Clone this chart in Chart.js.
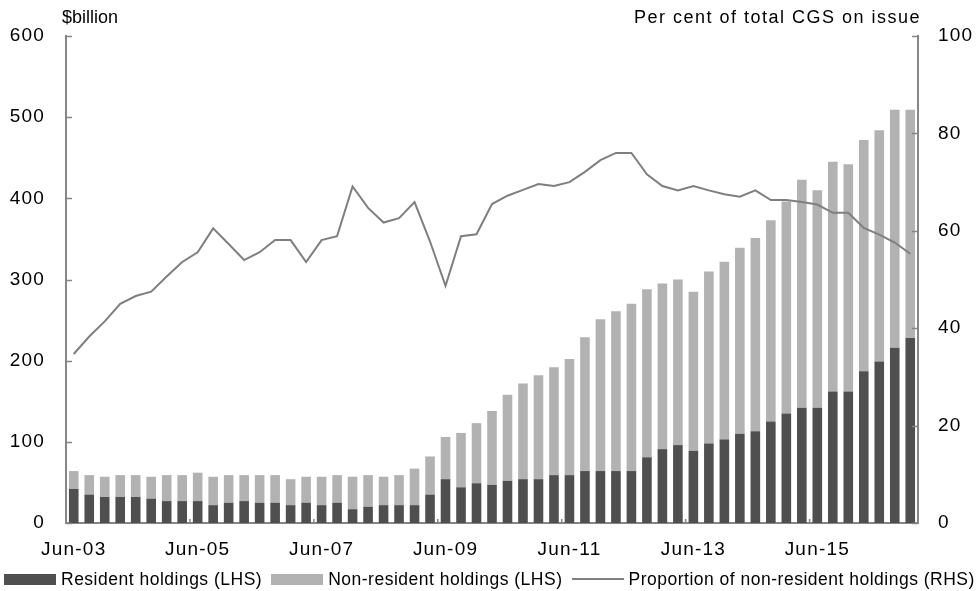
<!DOCTYPE html>
<html>
<head>
<meta charset="utf-8">
<script src="https://cdn.jsdelivr.net/npm/chart.js@4.4.1/dist/chart.umd.min.js"></script>
<style>
  html, body { margin: 0; padding: 0; background: #fff; }
  #wrap { position: relative; width: 977px; height: 591px; }
  #legend {
    position: absolute; left: 4px; top: 569px; height: 20px;
    display: flex; align-items: center; white-space: nowrap;
    font: 17.5px "Liberation Sans", Arial, sans-serif; letter-spacing: 0.5px; color: #000;
  }
  #legend .item { display: flex; align-items: center; margin-right: 9px; }
  #legend .swatch { width: 52px; height: 11px; margin-right: 5px; }
  #legend .line { width: 52px; height: 2px; margin-right: 5px; }
</style>
</head>
<body>
<div id="wrap">
  <canvas id="myChart" width="977" height="591"></canvas>
  <div id="legend"></div>
</div>
<script>
// quarterly categories, Jun-03 to Dec-16
const quarters = [
  "Jun-03", "Sep-03", "Dec-03", "Mar-04", "Jun-04", "Sep-04", "Dec-04", "Mar-05",
  "Jun-05", "Sep-05", "Dec-05", "Mar-06", "Jun-06", "Sep-06", "Dec-06", "Mar-07",
  "Jun-07", "Sep-07", "Dec-07", "Mar-08", "Jun-08", "Sep-08", "Dec-08", "Mar-09",
  "Jun-09", "Sep-09", "Dec-09", "Mar-10", "Jun-10", "Sep-10", "Dec-10", "Mar-11",
  "Jun-11", "Sep-11", "Dec-11", "Mar-12", "Jun-12", "Sep-12", "Dec-12", "Mar-13",
  "Jun-13", "Sep-13", "Dec-13", "Mar-14", "Jun-14", "Sep-14", "Dec-14", "Mar-15",
  "Jun-15", "Sep-15", "Dec-15", "Mar-16", "Jun-16", "Sep-16", "Dec-16"
];
const shownLabels = ["Jun-03", "Jun-05", "Jun-07", "Jun-09", "Jun-11", "Jun-13", "Jun-15"];

// $billion (LHS)
const resident = [
  42, 35, 32, 32, 32, 30, 27, 27, 27, 22,
  25, 27, 25, 25, 22, 25, 22, 25, 17, 20,
  22, 22, 22, 35, 54, 44, 49, 47, 52, 54,
  54, 59, 59, 64, 64, 64, 64, 81, 91, 96,
  89, 98, 103, 110, 113, 125, 135, 142, 142, 162,
  162, 187, 199, 216, 228
];
const nonResident = [
  22, 24, 25, 27, 27, 27, 32, 32, 35, 35,
  34, 32, 34, 34, 32, 32, 35, 34, 40, 39,
  35, 37, 45, 47, 52, 67, 74, 91, 106, 118,
  128, 133, 143, 165, 187, 197, 206, 207, 204, 204,
  196, 212, 219, 229, 238, 248, 261, 281, 268, 283,
  280, 285, 285, 293, 281
];
// per cent of total CGS on issue (RHS)
const proportion = [
  34.7, 38.3, 41.4, 45.0, 46.6, 47.5, 50.6, 53.6, 55.6, 60.5,
  57.3, 54.0, 55.6, 58.1, 58.1, 53.6, 58.1, 58.9, 69.1, 64.7,
  61.7, 62.6, 65.9, 57.8, 48.7, 58.9, 59.3, 65.5, 67.2, 68.4,
  69.6, 69.2, 70.0, 72.1, 74.5, 76.0, 76.0, 71.6, 69.2, 68.3,
  69.2, 68.3, 67.5, 67.0, 68.3, 66.3, 66.3, 65.9, 65.4, 63.7,
  63.7, 60.6, 59.2, 57.6, 55.3
];
const leftTicks = [0, 100, 200, 300, 400, 500, 600];
const rightTicks = [0, 20, 40, 60, 80, 100];

const darkGrey = "#4f4f4f";
const lightGrey = "#b2b2b2";
const lineGrey = "#7f7f7f";
const axisGrey = "#868686";
const fontFamily = '"Liberation Sans", Arial, sans-serif';

Chart.defaults.font.family = fontFamily;
Chart.defaults.font.size = 19;
Chart.defaults.color = "#000";

// inner tick marks + the two axis captions
const decorations = {
  id: "decorations",
  beforeDraw(chart) {
    chart.ctx.letterSpacing = "1.2px";
  },
  afterDraw(chart) {
    const { ctx, chartArea, scales } = chart;
    ctx.save();
    ctx.strokeStyle = axisGrey;
    ctx.lineWidth = 1.5;
    ctx.beginPath();
    scales.y.ticks.forEach((t, i) => {
      const py = Math.round(scales.y.getPixelForTick(i)) + 0.5;
      ctx.moveTo(chartArea.left, py);
      ctx.lineTo(chartArea.left + 6, py);
    });
    scales.y1.ticks.forEach((t, i) => {
      const py = Math.round(scales.y1.getPixelForTick(i)) + 0.5;
      ctx.moveTo(chartArea.right, py);
      ctx.lineTo(chartArea.right - 6, py);
    });
    for (let i = 8; i < quarters.length; i += 8) {
      const px = (scales.x.getPixelForValue(i - 1) + scales.x.getPixelForValue(i)) / 2;
      ctx.moveTo(px, chartArea.bottom);
      ctx.lineTo(px, chartArea.bottom - 4);
    }
    ctx.stroke();

    ctx.fillStyle = "#000";
    ctx.font = "18px " + fontFamily;
    ctx.textBaseline = "middle";
    ctx.textAlign = "left";
    ctx.letterSpacing = "0px";
    ctx.fillText("$billion", 62, 18);
    ctx.textAlign = "right";
    ctx.letterSpacing = "1.5px";
    ctx.fillText("Per cent of total CGS on issue", 921, 18);
    ctx.restore();
  }
};

const ctx = document.getElementById("myChart");

const chart = new Chart(ctx, {
  data: {
    labels: quarters,
    datasets: [
      {
        type: "line",
        label: "Proportion of non-resident holdings (RHS)",
        data: proportion,
        yAxisID: "y1",
        borderColor: lineGrey,
        borderWidth: 2,
        pointRadius: 0,
        tension: 0,
        order: 0,
      },
      {
        type: "bar",
        label: "Resident holdings (LHS)",
        data: resident,
        yAxisID: "y",
        backgroundColor: darkGrey,
        categoryPercentage: 1,
        barPercentage: 0.62,
        order: 1,
      },
      {
        type: "bar",
        label: "Non-resident holdings (LHS)",
        data: nonResident,
        yAxisID: "y",
        backgroundColor: lightGrey,
        categoryPercentage: 1,
        barPercentage: 0.62,
        order: 1,
      },
    ],
  },
  options: {
    responsive: false,
    animation: false,
    layout: { padding: { top: 36, left: 0, right: 0, bottom: 0 } },
    scales: {
      x: {
        stacked: true,
        grid: { display: false, drawTicks: false },
        border: { display: true, color: axisGrey, width: 2 },
        afterFit: (scale) => { scale.height = 68; },
        ticks: {
          autoSkip: false,
          maxRotation: 0,
          minRotation: 0,
          padding: 15,
          callback: function (value, index) {
            const lab = quarters[index];
            return shownLabels.includes(lab) ? lab : "";
          },
        },
      },
      y: {
        stacked: true,
        position: "left",
        min: 0,
        max: 600,
        grid: { display: false, drawTicks: false },
        border: { display: true, color: axisGrey, width: 2 },
        afterFit: (scale) => { scale.width = 66; },
        afterBuildTicks: (scale) => { scale.ticks = leftTicks.map((v) => ({ value: v })); },
        ticks: { padding: 21 },
      },
      y1: {
        position: "right",
        min: 0,
        max: 100,
        grid: { display: false, drawTicks: false },
        border: { display: true, color: axisGrey, width: 2 },
        afterFit: (scale) => { scale.width = 59; },
        afterBuildTicks: (scale) => { scale.ticks = rightTicks.map((v) => ({ value: v })); },
        ticks: { padding: 20 },
      },
    },
    plugins: {
      legend: { display: false },
      tooltip: { enabled: false },
    },
  },
  plugins: [decorations],
});

// html legend, built from the datasets
{
  const legend = document.getElementById("legend");
  const orderShown = [1, 2, 0];
  orderShown.forEach((di) => {
    const ds = chart.data.datasets[di];
    const item = document.createElement("div");
    item.className = "item";
    const mark = document.createElement("span");
    if (ds.type === "line") {
      mark.className = "line";
      mark.style.background = ds.borderColor;
    } else {
      mark.className = "swatch";
      mark.style.background = ds.backgroundColor;
    }
    const txt = document.createElement("span");
    txt.textContent = ds.label;
    item.appendChild(mark);
    item.appendChild(txt);
    legend.appendChild(item);
  });
}
</script>
</body>
</html>
